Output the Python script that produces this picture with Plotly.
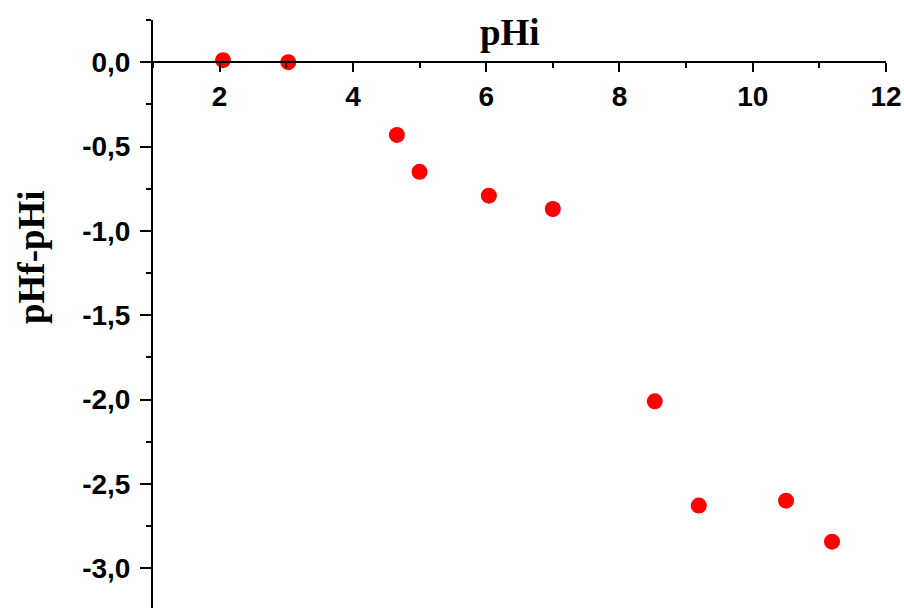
import plotly.graph_objects as go

# Initial pH and the resulting pH shift
ph_initial = [2.05, 3.03, 4.66, 5.00, 6.04, 7.00, 8.53, 9.19, 10.50, 11.19]
ph_shift = [0.012, 0.0, -0.431, -0.650, -0.791, -0.870, -2.010, -2.628, -2.599, -2.842]

x_ticks = [2, 4, 6, 8, 10, 12]
y_ticks = [0.0, -0.5, -1.0, -1.5, -2.0, -2.5, -3.0]
y_tick_text = ["0,0", "-0,5", "-1,0", "-1,5", "-2,0", "-2,5", "-3,0"]

x_range = [1.0, 12.0]
y_range = [-3.235, 0.25]

tick_font = dict(family="Liberation Sans, Arial, sans-serif", size=28, color="black")
title_font = dict(family="Liberation Serif, Times New Roman, serif", size=37, color="black")

fig = go.Figure()
fig.add_trace(go.Scatter(
    x=ph_initial, y=ph_shift, mode="markers",
    marker=dict(color="#ff0000", size=16, line=dict(width=0)),
    showlegend=False,
))

# x axis sits on the y = 0 line
x_pos = (0 - y_range[0]) / (y_range[1] - y_range[0])

fig.update_layout(
    width=904, height=608,
    margin=dict(l=153, r=18, t=20, b=0),
    paper_bgcolor="white", plot_bgcolor="white",
    xaxis=dict(
        range=x_range, anchor="free", position=x_pos,
        showline=True, linecolor="black", linewidth=2,
        showgrid=False, zeroline=False,
        tickvals=x_ticks, ticks="outside", ticklen=9, tickwidth=2, tickcolor="black",
        tickfont=dict(**tick_font, weight="bold"),
        minor=dict(dtick=1, tick0=1, ticks="outside", ticklen=5, tickwidth=2, tickcolor="black"),
    ),
    yaxis=dict(
        range=y_range,
        showline=True, linecolor="black", linewidth=2,
        showgrid=False, zeroline=False,
        tickvals=y_ticks, ticktext=y_tick_text,
        ticks="outside", ticklen=11, tickwidth=2, tickcolor="black",
        ticklabelstandoff=4,
        tickfont=dict(**tick_font, weight="bold"),
        minor=dict(tickvals=[0.25, -0.25, -0.75, -1.25, -1.75, -2.25, -2.75, -3.25],
                   ticks="outside", ticklen=5, tickwidth=2, tickcolor="black"),
    ),
    annotations=[
        dict(text="<b>pHi</b>", x=510, y=33, xref="paper", yref="paper",
             showarrow=False, font=title_font, xanchor="center", yanchor="middle"),
        dict(text="<b>pHf-pHi</b>", x=31, y=257, xref="paper", yref="paper",
             showarrow=False, font=title_font, textangle=-90,
             xanchor="center", yanchor="middle"),
    ],
)

# Place the axis titles in pixel terms converted to paper coordinates
pw = 904 - 153 - 18
ph = 608 - 20 - 0
for ann in fig.layout.annotations:
    ann.x = (ann.x - 153) / pw
    ann.y = (608 - ann.y) / ph

fig.write_html("out.html")
